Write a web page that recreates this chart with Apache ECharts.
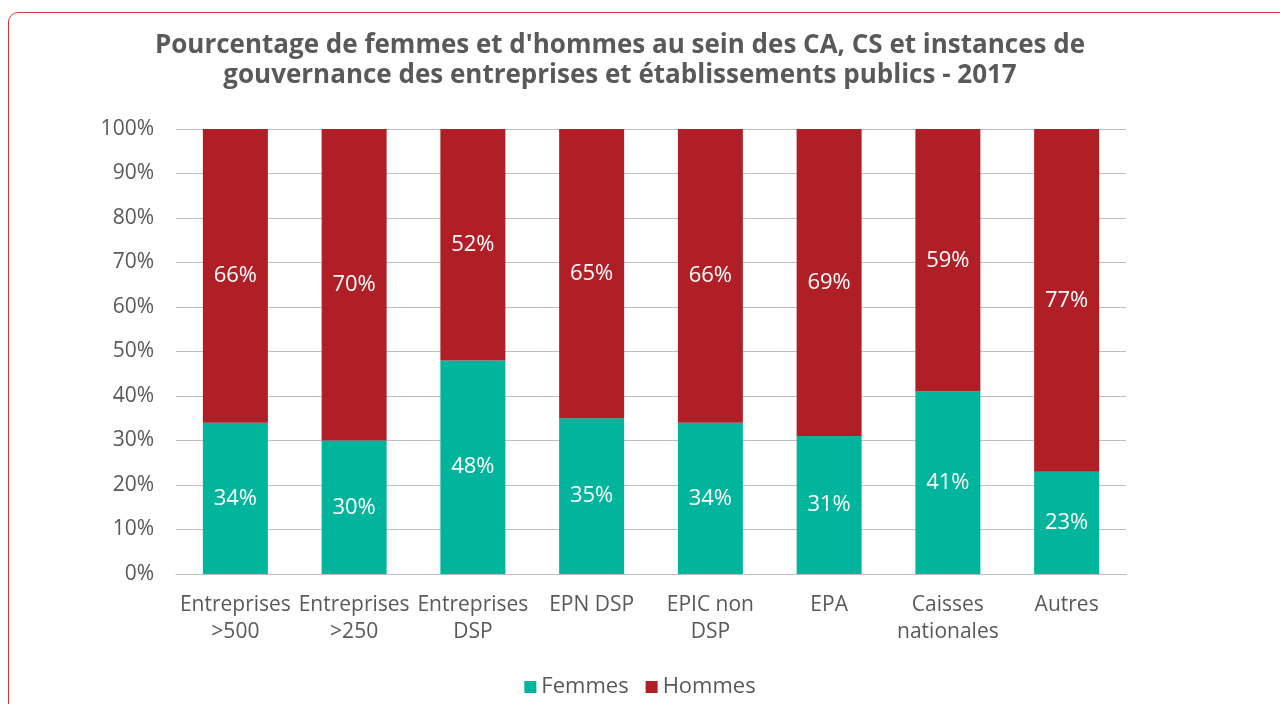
<!DOCTYPE html>
<html>
<head>
<meta charset="utf-8">
<script src="https://cdn.jsdelivr.net/npm/echarts@6/dist/echarts.min.js"></script>
<style>
  html, body { margin: 0; padding: 0; background: #fff; overflow: hidden; }
  .frame {
    position: absolute; left: 8px; top: 12px; width: 1320px; height: 760px;
    border: 1px solid #d9353b; border-radius: 10px; box-sizing: border-box;
  }
  #chart { position: absolute; left: 0; top: 0; width: 1280px; height: 704px; }
</style>
</head>
<body>
<div class="frame"></div>
<div id="chart"></div>
<script>
// categories and values (%)
const categories = ['Entreprises\n>500', 'Entreprises\n>250', 'Entreprises\nDSP', 'EPN DSP',
  'EPIC non\nDSP', 'EPA', 'Caisses\nnationales', 'Autres'];
const femmes = [34, 30, 48, 35, 34, 31, 41, 23];
const hommes = [66, 70, 52, 65, 66, 69, 59, 77];
const yTicks = [0, 10, 20, 30, 40, 50, 60, 70, 80, 90, 100];

const font = '"Open Sans", Lato, sans-serif';
const grey = '#595959';

const chart = echarts.init(document.getElementById('chart'));
chart.setOption({
  animation: false,
  textStyle: { fontFamily: font },
  title: {
    text: 'Pourcentage de femmes et d\'hommes au sein des CA, CS et instances de\ngouvernance des entreprises et établissements publics - 2017',
    left: 615, top: 26, textAlign: 'center',
    textStyle: { fontSize: 26, fontWeight: 'bold', color: grey, lineHeight: 30, fontFamily: font }
  },
  legend: {
    bottom: 1, left: 'center', itemWidth: 12, itemHeight: 12, itemGap: 17,
    icon: 'rect',
    textStyle: { fontSize: 22, color: grey, fontFamily: font },
    data: ['Femmes', 'Hommes']
  },
  grid: { left: 176, right: 154, top: 129, bottom: 130, containLabel: false },
  xAxis: {
    type: 'category', data: categories,
    axisLine: { lineStyle: { color: '#bfbfbf' } },
    axisTick: { show: false },
    axisLabel: { fontSize: 21, color: grey, lineHeight: 27, margin: 18, interval: 0, fontFamily: font }
  },
  yAxis: {
    type: 'value', min: yTicks[0], max: yTicks[yTicks.length - 1], interval: 10,
    axisLine: { show: false }, axisTick: { show: false },
    splitLine: { lineStyle: { color: '#bfbfbf' } },
    axisLabel: { fontSize: 21, color: grey, margin: 22, formatter: '{value}%', fontFamily: font }
  },
  series: [
    {
      name: 'Femmes', type: 'bar', stack: 'total', data: femmes, barWidth: 65,
      itemStyle: { color: '#00b59c' },
      label: { show: true, position: 'inside', color: '#fff', fontSize: 22, formatter: '{c}%', fontFamily: font }
    },
    {
      name: 'Hommes', type: 'bar', stack: 'total', data: hommes, barWidth: 65,
      itemStyle: { color: '#b11f26' },
      label: { show: true, position: 'inside', color: '#fff', fontSize: 22, formatter: '{c}%', fontFamily: font }
    }
  ]
});
</script>
</body>
</html>
